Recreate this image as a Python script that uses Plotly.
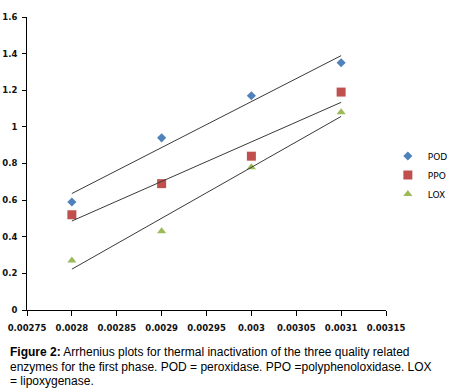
import numpy as np
import plotly.graph_objects as go

x_vals = [0.0028, 0.0029, 0.0030, 0.0031]
pod = [0.59, 0.94, 1.17, 1.35]
ppo = [0.52, 0.69, 0.84, 1.19]
lox = [0.27, 0.43, 0.78, 1.08]
series_names = ["POD", "PPO", "LOX"]
x_ticks = [0.00275, 0.0028, 0.00285, 0.0029, 0.00295, 0.003, 0.00305, 0.0031, 0.00315]
x_tick_labels = ["0.00275", "0.0028", "0.00285", "0.0029", "0.00295", "0.003", "0.00305", "0.0031", "0.00315"]
y_ticks = [0, 0.2, 0.4, 0.6, 0.8, 1, 1.2, 1.4, 1.6]
y_tick_labels = ["0", "0.2", "0.4", "0.6", "0.8", "1", "1.2", "1.4", "1.6"]

styles = [
    dict(symbol="diamond", color="#4F81BD", size=7),
    dict(symbol="square", color="#C0504D", size=9),
    dict(symbol="triangle-up", color="#9BBB59", size=8),
]

fig = go.Figure()
xa = np.array(x_vals)
for name, ys, st in zip(series_names, [pod, ppo, lox], styles):
    fig.add_trace(go.Scatter(x=x_vals, y=ys, mode="markers", name=name,
                             marker=dict(symbol=st["symbol"], color=st["color"], size=st["size"])))
for ys in [pod, ppo, lox]:
    m, b = np.polyfit(xa, np.array(ys), 1)
    xs = [x_vals[0], x_vals[-1]]
    fig.add_trace(go.Scatter(x=xs, y=[m * v + b for v in xs], mode="lines",
                             line=dict(color="#3a3a3a", width=1), showlegend=False, hoverinfo="skip"))

tick_font = dict(family="DejaVu Sans", size=8.5, color="#111111", weight="bold")
fig.update_layout(
    width=451, height=391,
    margin=dict(l=27, r=65, t=17, b=81),
    plot_bgcolor="white", paper_bgcolor="white",
    showlegend=True,
    legend=dict(xref="container", yref="container", x=0.86, y=0.638, xanchor="left", yanchor="top",
                font=dict(family="DejaVu Sans", size=9, color="black"),
                itemwidth=30, tracegroupgap=0, bgcolor="rgba(0,0,0,0)"),
    xaxis=dict(range=[0.00275, 0.00315], tickvals=x_ticks, ticktext=x_tick_labels, automargin=False,
               showgrid=False, zeroline=False, showline=True, linecolor="black", linewidth=1,
               ticks="outside", ticklen=5, tickcolor="black", tickfont=tick_font, ticklabelstandoff=5),
    yaxis=dict(range=[0, 1.6], tickvals=y_ticks, ticktext=y_tick_labels, automargin=False,
               showgrid=False, zeroline=False, showline=True, linecolor="black", linewidth=1,
               ticks="outside", ticklen=4, tickcolor="black", tickfont=tick_font, ticklabelstandoff=3),
)

cap_font = dict(family="Liberation Sans, Arial", size=12, color="black")
lines = [
    "<b>Figure 2:</b> Arrhenius plots for thermal inactivation of the three quality related",
    "enzymes for the first phase. POD = peroxidase. PPO =polyphenoloxidase. LOX",
    "= lipoxygenase.",
]
for i, t in enumerate(lines):
    fig.add_annotation(text=t, xref="paper", yref="paper", x=-19 / 359, y=(310 - (352 + 14.5 * i)) / 293,
                       xanchor="left", yanchor="middle", showarrow=False, font=cap_font, align="left")

fig.write_html("out.html", post_script="document.body.style.margin='0';",
               config={"displayModeBar": False})
